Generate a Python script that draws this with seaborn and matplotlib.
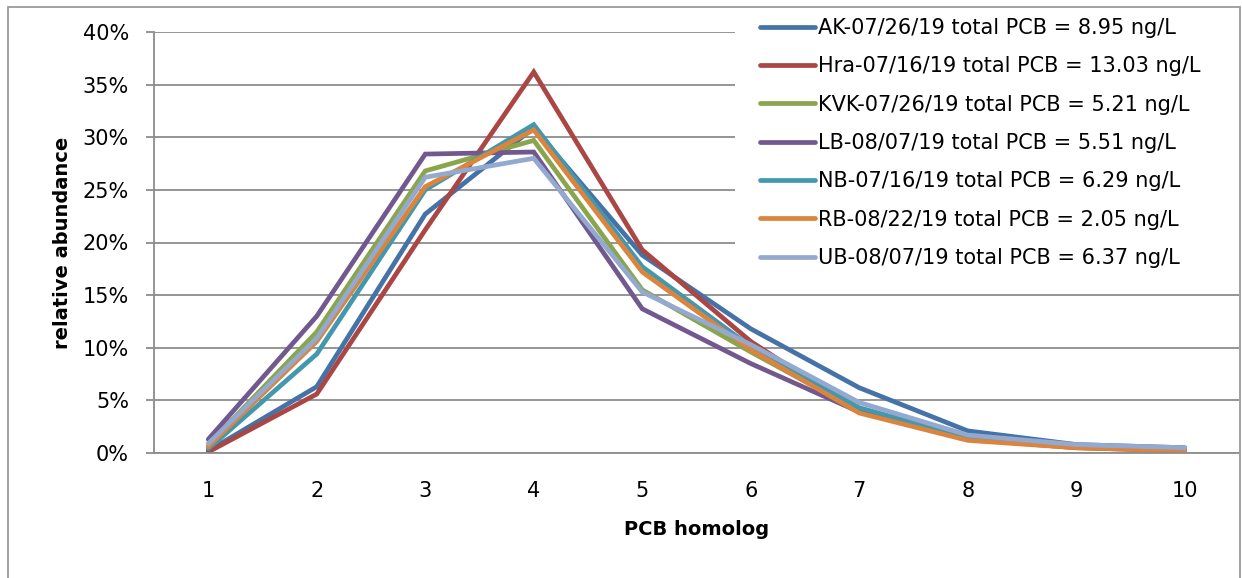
import numpy as np
import pandas as pd
import matplotlib
matplotlib.use("Agg")
import matplotlib.pyplot as plt
import seaborn as sns
from matplotlib.ticker import PercentFormatter
from matplotlib.patches import Rectangle

homologs = [1, 2, 3, 4, 5, 6, 7, 8, 9, 10]
samples = [
    "AK-07/26/19 total PCB = 8.95 ng/L",
    "Hra-07/16/19 total PCB = 13.03 ng/L",
    "KVK-07/26/19 total PCB = 5.21 ng/L",
    "LB-08/07/19 total PCB = 5.51 ng/L",
    "NB-07/16/19 total PCB = 6.29 ng/L",
    "RB-08/22/19 total PCB = 2.05 ng/L",
    "UB-08/07/19 total PCB = 6.37 ng/L",
]
ak = [0.2, 6.3, 22.7, 30.9, 18.8, 11.8, 6.2, 2.1, 0.8, 0.5]
hra = [0.1, 5.6, 21.2, 36.2, 19.3, 10.6, 3.9, 1.3, 0.5, 0.2]
kvk = [0.8, 11.5, 26.8, 29.7, 15.5, 9.6, 4.0, 1.3, 0.6, 0.3]
lb = [1.3, 13.0, 28.4, 28.6, 13.7, 8.5, 3.9, 1.4, 0.6, 0.3]
nb = [0.4, 9.4, 25.0, 31.2, 17.7, 10.1, 4.3, 1.5, 0.7, 0.4]
rb = [0.6, 10.6, 25.3, 30.7, 17.2, 9.8, 3.8, 1.2, 0.5, 0.2]
ub = [0.9, 10.9, 26.2, 28.0, 15.3, 10.3, 4.8, 1.7, 0.8, 0.5]
series = [ak, hra, kvk, lb, nb, rb, ub]
colors = ["#4572A7", "#AA4643", "#89A54E", "#71588F", "#4198AF", "#DB843D", "#93A9CF"]

rows = []
for name, vals in zip(samples, series):
    for h, v in zip(homologs, vals):
        rows.append({"homolog": h, "abundance": v / 100.0, "sample": name})
df = pd.DataFrame(rows)

sns.set_style("white")
plt.rcParams["font.family"] = ["DejaVu Sans"]
plt.rcParams["text.color"] = "black"
plt.rcParams["axes.labelcolor"] = "black"
plt.rcParams["xtick.color"] = "black"
plt.rcParams["ytick.color"] = "black"

FS = 15
W, H = 1242, 578
fig = plt.figure(figsize=(W / 100, H / 100), dpi=100)
ax = fig.add_axes([154 / W, 1 - 453 / H, (1239 - 154) / W, (453 - 32) / H])

sns.lineplot(data=df, x="homolog", y="abundance", hue="sample", hue_order=samples,
             palette=colors, linewidth=3.4, ax=ax, legend=True, sort=False)
for ln in ax.get_lines():
    ln.set_solid_joinstyle("miter")

ax.set_xlim(0.5, 10.5)
ax.set_ylim(0, 0.40)
ax.set_xticks(homologs)
ax.set_xticklabels([str(h) for h in homologs])
ax.set_yticks(np.arange(0, 0.401, 0.05))
ax.yaxis.set_major_formatter(PercentFormatter(1.0, decimals=0))
ax.yaxis.grid(True, color="#8c8c8c", linewidth=1.3)
ax.set_axisbelow(True)
for s in ["top", "right"]:
    ax.spines[s].set_visible(False)
for s in ["left", "bottom"]:
    ax.spines[s].set_color("#8c8c8c")
    ax.spines[s].set_linewidth(1.3)
ax.tick_params(axis="y", which="major", length=6, width=1.3, color="#8c8c8c",
               labelcolor="black", left=True, labelsize=FS, pad=12)
ax.tick_params(axis="x", which="major", length=0, labelcolor="black",
               labelsize=FS, pad=20.5)
ax.set_xlabel("PCB homolog", fontsize=14, fontweight="bold", labelpad=13,
              color="black")
ax.set_ylabel("relative abundance", fontsize=14, fontweight="bold", labelpad=8,
              color="black")

handles, labels = ax.get_legend_handles_labels()
ax.get_legend().remove()
leg = fig.legend(handles, labels, loc="upper left",
                 bbox_to_anchor=(735 / W, 0, (1239 - 735) / W, 1 + 7 / H),
                 mode="expand", frameon=True, fontsize=FS, handlelength=2.65,
                 handletextpad=0.12, labelspacing=0.88, borderpad=1.2,
                 borderaxespad=0.0)
leg.get_frame().set_facecolor("white")
leg.get_frame().set_edgecolor("none")
leg.get_frame().set_alpha(1.0)
leg.set_zorder(5)
for t in leg.get_texts():
    t.set_color("black")
for lh in leg.get_lines():
    lh.set_linewidth(3.4)

fig.patches.append(Rectangle((8 / W, -0.02), (1240 - 8) / W, 1 - 7 / H + 0.02,
                             transform=fig.transFigure, fill=False,
                             edgecolor="#9a9a9a", linewidth=1.3, zorder=10))

fig.savefig("out.png", dpi=100)
